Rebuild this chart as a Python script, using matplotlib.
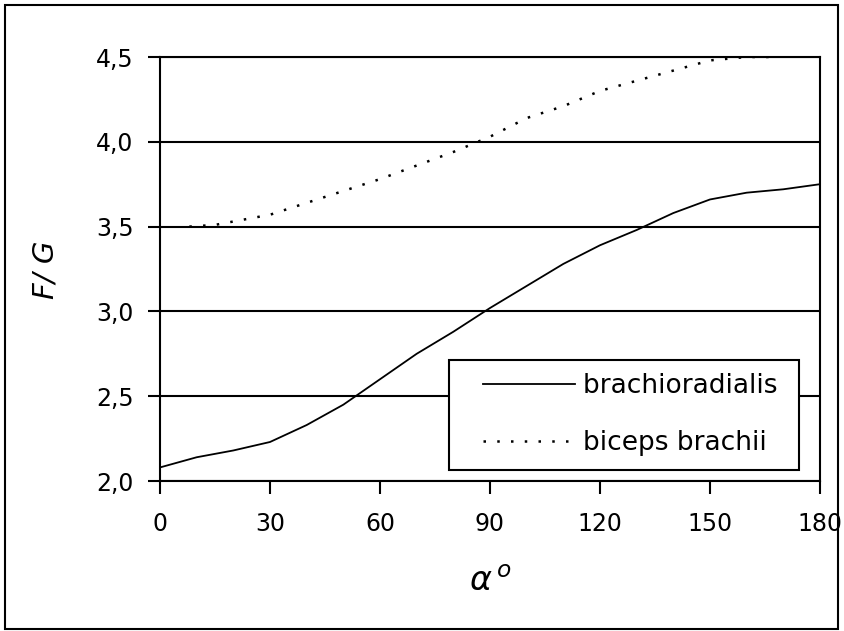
import matplotlib
matplotlib.use('Agg')
import matplotlib.pyplot as plt
from matplotlib.patches import Rectangle
from matplotlib.ticker import FuncFormatter
from matplotlib.legend_handler import HandlerLine2D

plt.rcParams['font.family'] = ['DejaVu Sans']

# brachioradialis (solid line)
brach_x = [0, 10, 20, 30, 40, 50, 60, 70, 80, 90, 100, 110, 120, 130, 140, 150, 160, 170, 180]
brach_y = [2.08, 2.14, 2.18, 2.23, 2.33, 2.45, 2.60, 2.75, 2.88, 3.02, 3.15, 3.28, 3.39, 3.48,
           3.58, 3.66, 3.70, 3.72, 3.75]

# biceps brachii (dotted line)
bic_x = [8, 15, 30, 40, 50, 60, 70, 80, 90, 100, 110, 120, 130, 140, 150, 160, 168]
bic_y = [3.50, 3.51, 3.57, 3.64, 3.71, 3.78, 3.86, 3.94, 4.03, 4.14, 4.21, 4.30, 4.36, 4.42,
         4.48, 4.50, 4.50]

x_ticks = [0, 30, 60, 90, 120, 150, 180]
y_ticks = [2.0, 2.5, 3.0, 3.5, 4.0, 4.5]

fig = plt.figure(figsize=(8.45, 6.31), dpi=100)
ax = fig.add_axes([160 / 845, 1 - 481 / 631, 660 / 845, 424 / 631])

l1, = ax.plot(brach_x, brach_y, color='black', lw=1.3, label='brachioradialis ')
l2, = ax.plot(bic_x, bic_y, color='black', lw=1.8, linestyle=(0, (1, 4.5)), label='biceps brachii')

ax.set_xlim(0, 180)
ax.set_ylim(2.0, 4.5)
ax.set_xticks(x_ticks)
ax.set_yticks(y_ticks)
ax.yaxis.set_major_formatter(FuncFormatter(lambda v, p: f'{v:.1f}'.replace('.', ',')))
ax.grid(axis='y', color='black', lw=1.5)
ax.set_axisbelow(True)
for s in ax.spines.values():
    s.set_linewidth(1.5)
ax.tick_params(direction='out', length=9, width=1.5, labelsize=17, colors='black')
ax.tick_params(axis='x', pad=13)
ax.tick_params(axis='y', pad=10)

ax.set_xlabel(r'$\alpha^{\,o}$', fontsize=24)
ax.xaxis.set_label_coords((490 - 160) / 660, -(565 - 481) / 424)
ax.set_ylabel('F/ G', fontsize=21, style='italic')
ax.yaxis.set_label_coords(-(160 - 60) / 660, (481 - 270) / 424)

hl = HandlerLine2D(xpad=0.8)
leg = ax.legend(loc='lower right', bbox_to_anchor=(0.968, 0.027), fontsize=19, frameon=True,
                fancybox=False, handlelength=4.28, borderpad=0.5, labelspacing=1.17,
                handletextpad=0.3, borderaxespad=0, handler_map={l1: hl, l2: hl})
leg.get_frame().set_edgecolor('black')
leg.get_frame().set_linewidth(1.5)
leg.get_frame().set_alpha(1)

fig.patches.append(Rectangle((5 / 845, 2 / 631), 833 / 845, 624 / 631, transform=fig.transFigure,
                             fill=False, edgecolor='black', lw=1.5))

fig.savefig('out.png', dpi=100)
